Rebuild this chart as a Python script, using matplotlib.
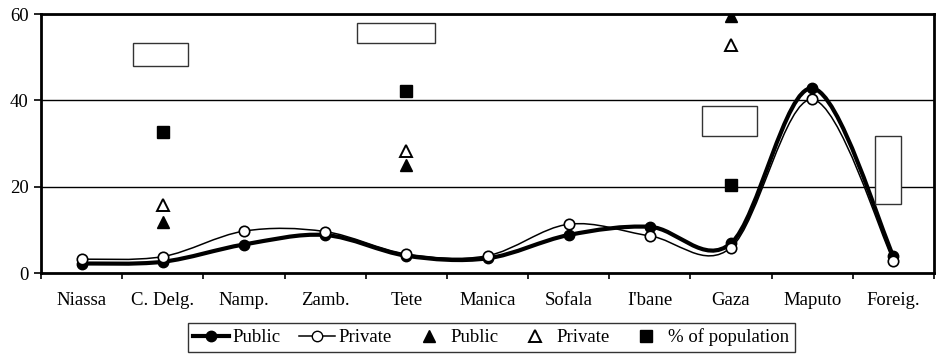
import matplotlib
matplotlib.use("Agg")
import matplotlib.pyplot as plt
from matplotlib.path import Path
from matplotlib.patches import PathPatch, Rectangle
from matplotlib.lines import Line2D
import numpy as np

plt.rcParams['font.family'] = ['Liberation Serif', 'DejaVu Serif']

categories = ["Niassa", "C. Delg.", "Namp.", "Zamb.", "Tete", "Manica",
              "Sofala", "I'bane", "Gaza", "Maputo", "Foreig."]
public_line = [2.2, 2.6, 6.6, 8.8, 4.0, 3.4, 8.8, 10.7, 6.9, 42.8, 3.9]
private_line = [3.2, 3.8, 9.7, 9.6, 4.4, 4.0, 11.3, 8.6, 5.9, 40.2, 2.8]

# provinces with separate point estimates
point_cats = ["C. Delg.", "Tete", "Gaza"]
public_pts = [11.7, 25.0, 59.6]
private_pts = [15.8, 28.3, 52.8]
population_pts = [32.6, 42.2, 20.4]

yticks = [0, 20, 40, 60]


def smooth_path(xs, ys):
    """Bezier curve through the points (Catmull-Rom style smoothing)."""
    pts = np.column_stack([xs, ys]).astype(float)
    n = len(pts)
    verts = [pts[0]]
    codes = [Path.MOVETO]
    for i in range(n - 1):
        p0 = pts[i - 1] if i > 0 else pts[i]
        p1 = pts[i]
        p2 = pts[i + 1]
        p3 = pts[i + 2] if i + 2 < n else pts[i + 1]
        c1 = p1 + (p2 - p0) / 6.0
        c2 = p2 - (p3 - p1) / 6.0
        verts += [c1, c2, p2]
        codes += [Path.CURVE4] * 3
    return Path(verts, codes)


FS = 13.5

fig = plt.figure(figsize=(9.43, 3.56), dpi=100)
ax = fig.add_axes([41 / 943, 1 - 273 / 356, (934 - 41) / 943, (273 - 14) / 356])

x = np.arange(len(categories))
ax.set_xlim(-0.5, len(categories) - 0.5)
ax.set_ylim(0, 60)

for v in yticks[1:]:
    ax.axhline(v, color='black', lw=1.0, zorder=1)

# smoothed lines
ax.add_patch(PathPatch(smooth_path(x, private_line), facecolor='none',
                       edgecolor='black', lw=1.1, zorder=3))
ax.add_patch(PathPatch(smooth_path(x, public_line), facecolor='none',
                       edgecolor='black', lw=3.0, zorder=4))
ax.plot(x, public_line, 'o', ms=7.5, mfc='black', mec='black', zorder=5)
ax.plot(x, private_line, 'o', ms=7.5, mfc='white', mec='black', mew=1.2, zorder=6)

px = [categories.index(c) for c in point_cats]
ax.plot(px, public_pts, '^', ms=9, mfc='black', mec='black', ls='none', zorder=5)
ax.plot(px, private_pts, '^', ms=9, mfc='white', mec='black', mew=1.4, ls='none', zorder=5)
ax.plot(px, population_pts, 's', ms=8, mfc='black', mec='black', ls='none', zorder=5)

# empty annotation boxes (figure pixel placement)
boxes = [(133.3, 42.7, 188.3, 66.0), (356.7, 23.3, 434.7, 42.7),
         (702.3, 105.7, 757.3, 136.3), (875.3, 136.3, 901.3, 204.0)]
for x0, y0, x1, y1 in boxes:
    fig.patches.append(Rectangle((x0 / 943, 1 - y1 / 356), (x1 - x0) / 943,
                                 (y1 - y0) / 356, transform=fig.transFigure,
                                 facecolor='white', edgecolor='#333333', lw=1.0,
                                 zorder=10))

ax.set_yticks(yticks)
ax.set_xticks(x)
ax.set_xticklabels(categories, fontsize=FS)
ax.set_xticks(np.arange(-0.5, len(categories)), minor=True)
ax.tick_params(axis='x', which='major', length=0, pad=14)
ax.tick_params(axis='x', which='minor', length=4, width=1.2, direction='out')
ax.tick_params(axis='y', length=5, width=1.2, direction='out', labelsize=FS, pad=4)
for s in ax.spines.values():
    s.set_linewidth(2.0)
    s.set_color('black')

handles = [
    Line2D([], [], color='black', lw=3.0, marker='o', ms=7.5, mfc='black'),
    Line2D([], [], color='black', lw=1.1, marker='o', ms=7.5, mfc='white'),
    Line2D([], [], ls='none', marker='^', ms=9, mfc='black', mec='black'),
    Line2D([], [], ls='none', marker='^', ms=9, mfc='white', mec='black', mew=1.4),
    Line2D([], [], ls='none', marker='s', ms=8, mfc='black', mec='black'),
]
labels = ["Public", "Private", "Public", "Private", "% of population"]
leg = fig.legend(handles, labels, loc='center', bbox_to_anchor=(491 / 943, 1 - 337.5 / 356),
                 ncol=5, fontsize=FS, frameon=True, fancybox=False,
                 handlelength=1.9, handletextpad=0.2, columnspacing=1.0,
                 borderpad=0.3, borderaxespad=0, edgecolor='black')
leg.get_frame().set_linewidth(1.0)

fig.savefig("out.png", dpi=100)
